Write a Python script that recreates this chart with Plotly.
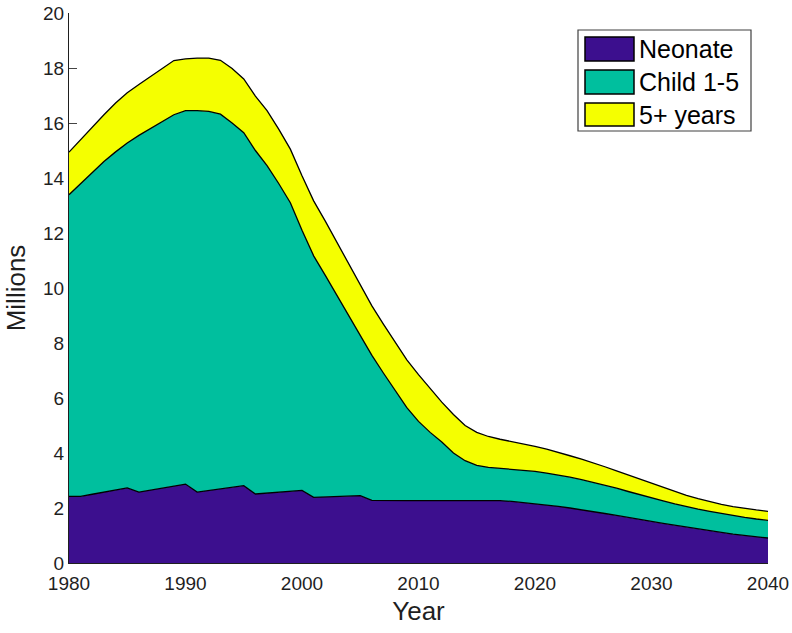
import plotly.graph_objects as go

years = list(range(1980, 2041))

neonate = [2.42, 2.42, 2.50, 2.58, 2.66, 2.73, 2.58, 2.65, 2.72, 2.80,
           2.87, 2.58, 2.64, 2.70, 2.76, 2.81, 2.51, 2.54, 2.57, 2.60,
           2.64, 2.39, 2.41, 2.43, 2.44, 2.45, 2.28, 2.27, 2.27, 2.27,
           2.27, 2.27, 2.27, 2.27, 2.27, 2.27, 2.27, 2.27, 2.24, 2.20,
           2.16, 2.11, 2.06, 2.00, 1.94, 1.88, 1.80, 1.73, 1.65, 1.58,
           1.51, 1.44, 1.37, 1.30, 1.23, 1.17, 1.11, 1.05, 1.00, 0.95,
           0.91]

child_1_5 = [10.97, 11.38, 11.70, 12.02, 12.29, 12.54, 12.97, 13.15, 13.33, 13.50,
             13.58, 13.87, 13.78, 13.62, 13.24, 12.84, 12.49, 11.91, 11.23, 10.50,
             9.46, 8.78, 8.05, 7.31, 6.56, 5.82, 5.27, 4.63, 3.99, 3.38,
             2.88, 2.48, 2.13, 1.73, 1.45, 1.28, 1.21, 1.17, 1.17, 1.18,
             1.17, 1.16, 1.14, 1.12, 1.09, 1.05, 1.02, 0.99, 0.95, 0.90,
             0.86, 0.82, 0.78, 0.75, 0.73, 0.71, 0.69, 0.68, 0.66, 0.65,
             0.64]

five_plus = [1.55, 1.60, 1.65, 1.70, 1.78, 1.83, 1.85, 1.90, 1.95, 1.97,
             1.88, 1.91, 1.94, 1.96, 1.98, 1.95, 1.98, 2.00, 1.98, 1.95,
             1.98, 2.00, 1.97, 1.92, 1.88, 1.85, 1.80, 1.78, 1.76, 1.74,
             1.70, 1.58, 1.45, 1.40, 1.28, 1.20, 1.12, 1.06, 1.01, 0.95,
             0.91, 0.87, 0.83, 0.78, 0.75, 0.72, 0.68, 0.63, 0.60, 0.57,
             0.53, 0.49, 0.45, 0.41, 0.38, 0.35, 0.33, 0.32, 0.32, 0.33,
             0.33]

series_names = ["Neonate", "Child 1-5", "5+ years"]
series_values = [neonate, child_1_5, five_plus]
colors = ["#3C0F8E", "#00BF9E", "#F5FF00"]

x_ticks = [1980, 1990, 2000, 2010, 2020, 2030, 2040]
y_ticks = list(range(0, 21, 2))

FONT = "Liberation Sans, Arial, sans-serif"
TXT = "#1f1f1f"

W, H = 792, 633
L, R, T, B = 69, 768, 13, 563

fig = go.Figure()
for name, vals, col in zip(series_names, series_values, colors):
    fig.add_trace(go.Scatter(
        x=years, y=vals, name=name, mode="lines", stackgroup="one",
        line=dict(color="black", width=1.3), fillcolor=col, showlegend=False,
    ))

def px(x):
    return (x - L) / (R - L)
def py(y):
    return (B - y) / (B - T)

shapes = [dict(type="rect", xref="paper", yref="paper",
               x0=px(578), x1=px(751), y0=py(131), y1=py(30),
               line=dict(color="#404040", width=1.2), fillcolor="white")]
annotations = []
rows = [(37, 61), (70, 94), (103, 126)]
for (y0, y1), name, col in zip(rows, series_names, colors):
    shapes.append(dict(type="rect", xref="paper", yref="paper",
                       x0=px(585), x1=px(634), y0=py(y1), y1=py(y0),
                       line=dict(color="black", width=1.5), fillcolor=col))
    annotations.append(dict(xref="paper", yref="paper", x=px(637), y=py((y0 + y1) / 2),
                            text=name, showarrow=False, xanchor="left", yanchor="middle",
                            font=dict(family=FONT, size=25, color="black")))

fig.update_layout(
    width=W, height=H,
    margin=dict(l=L, r=W - R, t=T, b=H - B),
    paper_bgcolor="white", plot_bgcolor="white",
    font=dict(family=FONT, color=TXT),
    shapes=shapes, annotations=annotations,
    xaxis=dict(range=[1980, 2040], tickvals=x_ticks, ticks="inside", ticklen=8,
               showgrid=False, zeroline=False, showline=True, linecolor=TXT, linewidth=1,
               tickfont=dict(size=19, color=TXT), layer="below traces",
               ticklabelstandoff=3, ticklabeloverflow="allow",
               title=dict(text="Year", font=dict(size=26, color=TXT), standoff=9),
               automargin=False),
    yaxis=dict(range=[0, 20], tickvals=y_ticks, ticks="inside", ticklen=8,
               showgrid=False, zeroline=False, showline=True, linecolor=TXT, linewidth=1,
               tickfont=dict(size=19, color=TXT), layer="below traces",
               ticklabeloverflow="allow",
               title=dict(text="Millions", font=dict(size=26, color=TXT), standoff=9),
               automargin=False),
)

fig.write_html("out.html", config={"displayModeBar": False},
               post_script="document.body.style.margin='0';document.body.style.overflow='hidden';")
